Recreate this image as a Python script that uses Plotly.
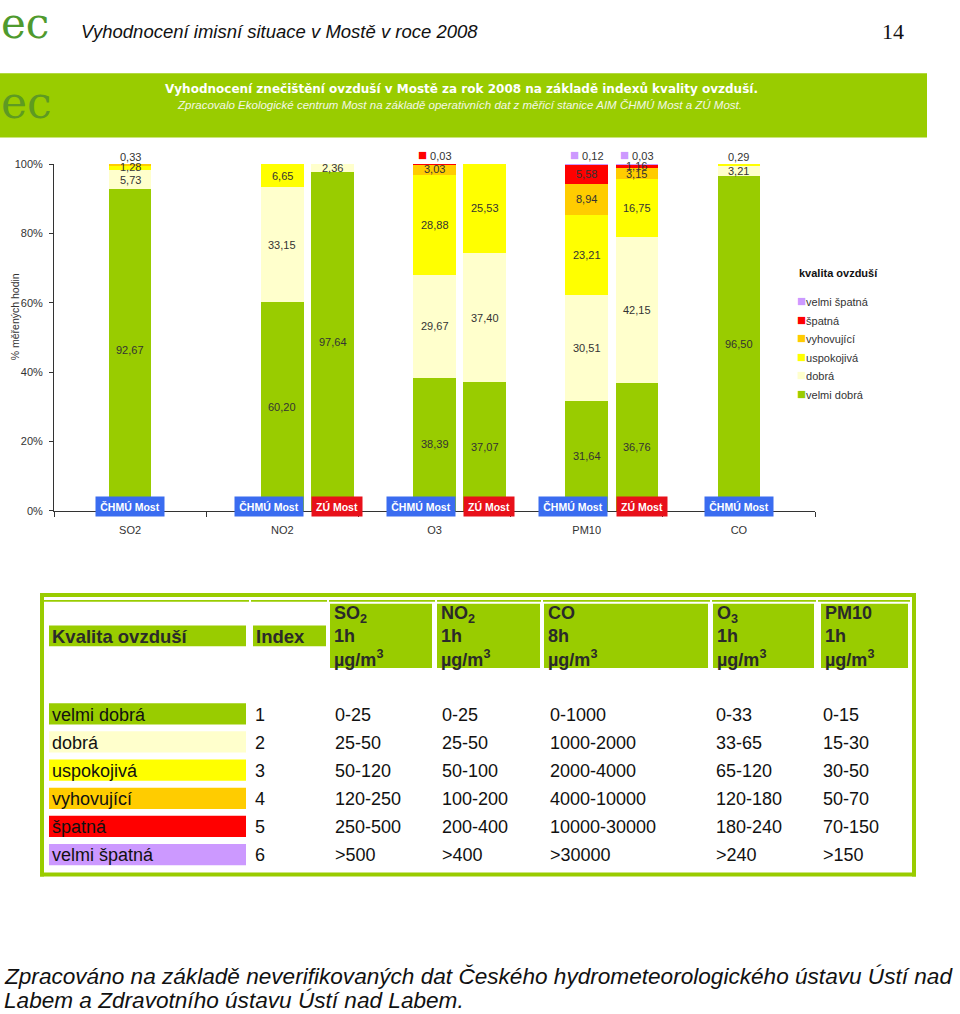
import plotly.graph_objects as go

W, H = 960, 1014

# ---------------- data ----------------
levels = ["velmi dobrá", "dobrá", "uspokojivá", "vyhovující", "špatná", "velmi špatná"]
level_colors = ["#99cc00", "#ffffcc", "#ffff00", "#ffcc00", "#ff0000", "#cc99ff"]
pollutants = ["SO2", "NO2", "O3", "PM10", "CO"]
station_names = ["ČHMÚ Most", "ČHMÚ Most", "ZÚ Most", "ČHMÚ Most", "ZÚ Most",
                 "ČHMÚ Most", "ZÚ Most", "ČHMÚ Most"]
station_pollutant = [0, 1, 1, 2, 2, 3, 3, 4]
velmi_dobra = [92.67, 60.20, 97.64, 38.39, 37.07, 31.64, 36.76, 96.50]
dobra = [5.73, 33.15, 2.36, 29.67, 37.40, 30.51, 42.15, 3.21]
uspokojiva = [1.28, 6.65, 0, 28.88, 25.53, 23.21, 16.75, 0.29]
vyhovujici = [0.33, 0, 0, 3.03, 0, 8.94, 3.15, 0]
spatna = [0, 0, 0, 0.03, 0, 5.58, 1.16, 0]
velmi_spatna = [0, 0, 0, 0, 0, 0.12, 0.03, 0]
series = [velmi_dobra, dobra, uspokojiva, vyhovujici, spatna, velmi_spatna]
y_ticks = [0, 20, 40, 60, 80, 100]
legend_title = "kvalita ovzduší"

table_header = ["Kvalita ovzduší", "Index",
                "SO<sub>2</sub><br>1h<br>µg/m<sup>3</sup>",
                "NO<sub>2</sub><br>1h<br>µg/m<sup>3</sup>",
                "CO<br>8h<br>µg/m<sup>3</sup>",
                "O<sub>3</sub><br>1h<br>µg/m<sup>3</sup>",
                "PM10<br>1h<br>µg/m<sup>3</sup>"]
table_index = ["1", "2", "3", "4", "5", "6"]
so2_ranges = ["0-25", "25-50", "50-120", "120-250", "250-500", ">500"]
no2_ranges = ["0-25", "25-50", "50-100", "100-200", "200-400", ">400"]
co_ranges = ["0-1000", "1000-2000", "2000-4000", "4000-10000", "10000-30000", ">30000"]
o3_ranges = ["0-33", "33-65", "65-120", "120-180", "180-240", ">240"]
pm10_ranges = ["0-15", "15-30", "30-50", "50-70", "70-150", ">150"]

page_title = "Vyhodnocení imisní situace v Mostě v roce 2008"
page_number = "14"
banner_title = "Vyhodnocení znečištění ovzduší v Mostě za rok 2008 na základě indexů kvality ovzduší."
banner_sub = ("Zpracovalo Ekologické centrum Most na základě operativních dat z měřicí "
              "stanice AIM ČHMÚ Most a ZÚ Most.")
footer_lines = ["Zpracováno na základě neverifikovaných dat Českého hydrometeorologického ústavu Ústí nad",
                "Labem a Zdravotního ústavu Ústí nad Labem."]

# ---------------- helpers ----------------
FONT = "Liberation Sans, Arial, sans-serif"
GREEN = "#99cc00"


def px(x):
    return x / W


def py(y):
    return 1 - y / H


def fmt(v):
    return f"{v:.2f}".replace(".", ",")


def swatch(color, size):
    return f"<span style='font-size:{size}px;color:{color}'>■</span>"


annotations = []
shapes = []


def text(x, y, s, size, color="#111", xanchor="left", yanchor="middle",
         family=FONT, align="left", angle=0):
    annotations.append(dict(x=px(x), y=py(y), xref="paper", yref="paper", text=s,
                            showarrow=False, xanchor=xanchor, yanchor=yanchor,
                            align=align, textangle=angle,
                            font=dict(family=family, size=size, color=color)))


def rect(x0, y0, x1, y1, color):
    shapes.append(dict(type="rect", xref="paper", yref="paper", x0=px(x0), x1=px(x1),
                       y0=py(y1), y1=py(y0), fillcolor=color, line=dict(width=0),
                       layer="below"))


# ---------------- chart ----------------
positions = [station_pollutant[i] + 0.5 + (0.33 if station_names[i].startswith("ZÚ") else 0)
             for i in range(len(station_names))]
bar_w = 0.28

fig = go.Figure()
for k, lvl in enumerate(levels):
    fig.add_trace(go.Bar(x=positions, y=[v if v > 0 else None for v in series[k]],
                         name=lvl, width=bar_w,
                         marker=dict(color=level_colors[k], line=dict(width=0)),
                         hoverinfo="skip", showlegend=False))

# value labels
for i, xpos in enumerate(positions):
    cum = 0
    for k in range(len(levels)):
        v = series[k][i]
        if v <= 0:
            continue
        lab = fmt(v)
        if v < 1:
            if k >= 4:
                lab = swatch(level_colors[k], 15) + " " + lab
            annotations.append(dict(x=xpos, y=100, xref="x", yref="y", text=lab,
                                    showarrow=False, yanchor="bottom", yshift=-1,
                                    font=dict(family=FONT, size=11, color="#333")))
        else:
            annotations.append(dict(x=xpos, y=cum + v / 2, xref="x", yref="y", text=lab,
                                    showarrow=False,
                                    font=dict(family=FONT, size=11, color="#333")))
        cum += v

# station labels
for i, xpos in enumerate(positions):
    name = station_names[i]
    paired = station_pollutant.count(station_pollutant[i]) > 1
    is_zu = name.startswith("ZÚ")
    if paired and not is_zu:
        xa, xx = "right", xpos + bar_w / 2
    elif paired and is_zu:
        xa, xx = "left", xpos - bar_w / 2
    else:
        xa, xx = "center", xpos
    annotations.append(dict(x=xx, y=0, xref="x", yref="y", text=f"<b>{name}</b>",
                            showarrow=False, xanchor=xa, yanchor="middle", yshift=4,
                            width=44 if is_zu else 62, height=13,
                            bgcolor="#e8101a" if is_zu else "#3a6cf0", borderpad=3,
                            font=dict(family=FONT, size=10.5, color="white")))

# legend (manual, to match the small swatches of the original)
text(797, 270, f"<b>{legend_title}</b>", 11, color="#111")
for j, k in enumerate(reversed(range(len(levels)))):
    text(795, 298 + j * 18.8, swatch(level_colors[k], 15) + levels[k], 11, color="#333")

# y-axis title
text(15, 315, "% měřených hodin", 10.5, color="#333", xanchor="center", angle=-90)

# ---------------- page header ----------------
text(-1, 18, "ec", 42, color="#4f9a2e", family="DejaVu Serif, serif")
text(79, 26, f"<i>{page_title}</i>", 18.5, color="#111")
text(906, 26, page_number, 22, color="#111", xanchor="right", family="Liberation Serif, serif")

rect(0, 68, 927, 133, GREEN)
text(-1, 98, "ec", 44, color="#5e9a22", family="DejaVu Serif, serif")
text(461, 84, f"<b>{banner_title}</b>", 12, color="white", xanchor="center",
     family="DejaVu Sans, sans-serif")
text(459, 100, f"<i>{banner_sub}</i>", 11.5, color="#f4f8e6", xanchor="center")

# ---------------- table ----------------
col_l = [49, 253, 330, 437, 544, 713, 821]
col_r = [246, 326, 432, 540, 708, 814, 908]
seg = [(44, 249), (251, 327), (329, 435), (437, 541), (543, 710), (712, 816), (818, 910)]
body_cols = [levels, table_index, so2_ranges, no2_ranges, co_ranges, o3_ranges, pm10_ranges]
text_dx = [1, 0, 3, 3, 4, 1, 0]

# frame
rect(40, 594, 916, 598, GREEN)
rect(40, 594, 44, 881, GREEN)
rect(40, 877, 916, 881, GREEN)
rect(912, 594, 916, 881, GREEN)
for a, b in seg:
    rect(a, 601, b, 603, GREEN)

# header cells
for c in range(len(col_l)):
    if c < 2:
        rect(col_l[c], 627, col_r[c], 648, GREEN)
        text(col_l[c] + 1, 638, f"<b>{table_header[c]}</b>", 18.5, color="#2a2a2a")
    else:
        rect(col_l[c], 605, col_r[c], 670, GREEN)
        text(col_l[c] + 2, 602, f"<b>{table_header[c]}</b>", 18, color="#2a2a2a",
             yanchor="top")

# body
row_y0 = 717
row_dy = 28.5
for r in range(len(levels)):
    yc = row_y0 + r * row_dy
    rect(col_l[0], yc - 11.5, col_r[0], yc + 10, level_colors[r])
    for c, col in enumerate(body_cols):
        text(col_l[c] + text_dx[c], yc, col[r], 18, color="#111")

# footer
text(2, 982, f"<i>{footer_lines[0]}</i>", 22.6, color="#111")
text(2, 1006, f"<i>{footer_lines[1]}</i>", 22.6, color="#111")

# ---------------- layout ----------------
fig.update_layout(
    width=W, height=H,
    margin=dict(l=0, r=0, t=0, b=0),
    paper_bgcolor="white", plot_bgcolor="white",
    barmode="stack", bargap=0, showlegend=False,
    font=dict(family=FONT, size=11, color="#333"),
    xaxis=dict(domain=[px(54), px(815)], range=[0, 5], showgrid=False, zeroline=False,
               showline=True, linecolor="#333", linewidth=1,
               tickmode="array", tickvals=[i + 0.5 for i in range(len(pollutants))],
               ticktext=pollutants, ticks="", ticklabelstandoff=9,
               tickfont=dict(size=11, color="#333"),
               minor=dict(tickmode="array", tickvals=list(range(len(pollutants) + 1)),
                          ticks="outside", ticklen=5, tickcolor="#333")),
    yaxis=dict(domain=[py(511), py(160)], range=[0, 100], showgrid=False, zeroline=False,
               showline=True, linecolor="#333", linewidth=1,
               tickmode="array", tickvals=y_ticks, ticktext=[f"{t}%" for t in y_ticks],
               ticks="outside", ticklen=4, tickcolor="#333", ticklabelstandoff=4,
               tickfont=dict(size=11, color="#333")),
    annotations=annotations,
    shapes=shapes,
)

fig.write_html("out.html", config={"displayModeBar": False},
               post_script="document.body.style.margin='0';"
                           "document.body.style.overflow='hidden';")
